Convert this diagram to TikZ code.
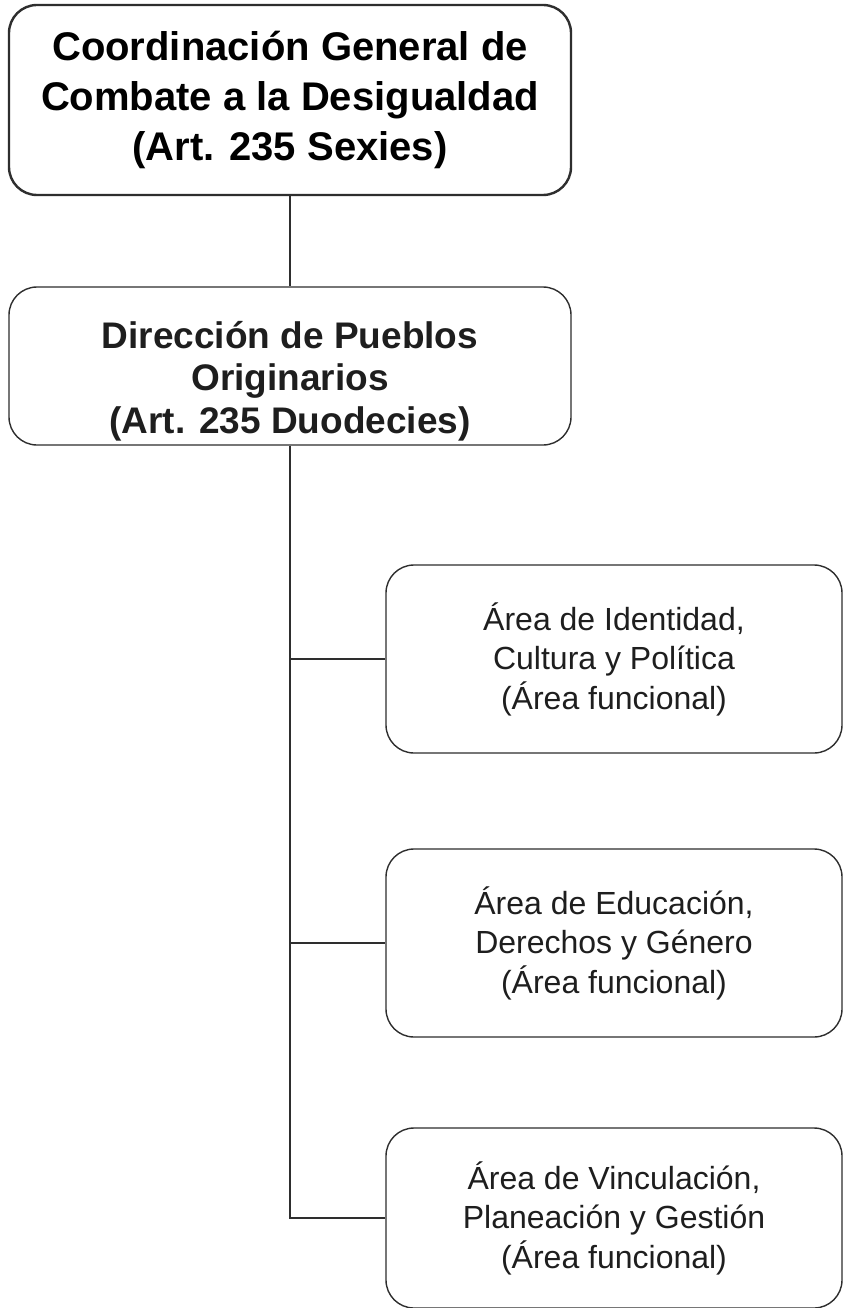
\documentclass[tikz,border=0pt]{standalone}
\usepackage{fontspec}
\setmainfont{Liberation Sans}
\definecolor{edge}{HTML}{2E2E2E}
\definecolor{ink}{HTML}{1E1E1E}
\begin{document}
\begin{tikzpicture}[x=1pt,y=-1pt,
  box/.style={draw=edge, line width=1.4pt, rounded corners=28pt, align=center,
    inner sep=0pt, fill=white},
  topbox/.style={box, line width=2.4pt, font=\fontsize{40}{50}\selectfont\bfseries, text=black},
  dirtext/.style={align=center, inner sep=0pt, font=\fontsize{37}{42.5}\selectfont\bfseries, text=ink},
  areabox/.style={box, font=\fontsize{32}{39.5}\selectfont, text=ink},
  link/.style={draw=edge, line width=1.8pt}]
\useasboundingbox (0,0) rectangle (843,1308);
\fill[white] (0,0) rectangle (843,1308);

\node[topbox, minimum width=562pt, minimum height=190pt] (top) at (290,100)
  {Coordinación General de\\Combate a la Desigualdad\\(Art. 235 Sexies)};
\node[box, minimum width=562pt, minimum height=158pt] (dir) at (290,366) {};
\node[dirtext] (dirlabel) at ([yshift=-15pt]dir.center)
  {Dirección de Pueblos\\Originarios\\(Art. 235 Duodecies)};
\node[areabox, minimum width=456pt, minimum height=188pt] (a1) at (614,659)
  {Área de Identidad,\\Cultura y Política\\(Área funcional)};
\node[areabox, minimum width=456pt, minimum height=188pt] (a2) at (614,943)
  {Área de Educación,\\Derechos y Género\\(Área funcional)};
\node[areabox, minimum width=456pt, minimum height=180pt] (a3) at (614,1218)
  {Área de Vinculación,\\Planeación y Gestión\\(Área funcional)};

\draw[link] (top.south) -- (dir.north);
\draw[link] (dir.south) -- (dir.south |- a3.west) -- (a3.west);
\draw[link] (dir.south |- a1.west) -- (a1.west);
\draw[link] (dir.south |- a2.west) -- (a2.west);
\end{tikzpicture}
\end{document}
